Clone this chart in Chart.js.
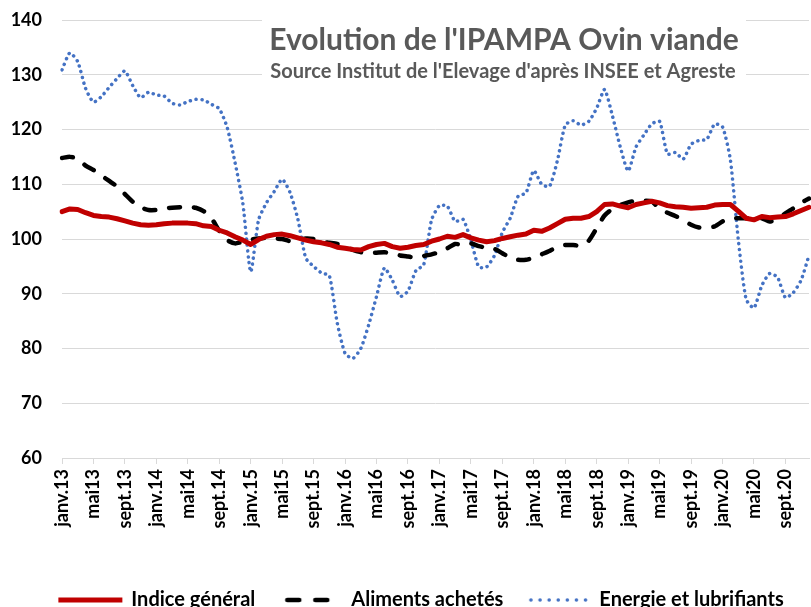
<!DOCTYPE html>
<html lang="fr">
<head>
<meta charset="utf-8">
<title>Evolution de l'IPAMPA Ovin viande</title>
<script src="https://cdn.jsdelivr.net/npm/chart.js@4.4.1/dist/chart.umd.min.js"></script>
<style>
  html, body { margin: 0; padding: 0; background: #fff; overflow: hidden; }
  #wrap { width: 811px; height: 607px; overflow: hidden; }
  canvas { display: block; }
</style>
</head>
<body>
<div id="wrap">
  <canvas id="ipampaChart" width="843" height="607"></canvas>
</div>
<script>
// mois affichés sur l'axe (un libellé tous les 4 mois)
const moisFr = ['janv.', 'févr.', 'mars', 'avr.', 'mai', 'juin', 'juil.', 'août', 'sept.', 'oct.', 'nov.', 'déc.'];
const annees = ['13', '14', '15', '16', '17', '18', '19', '20'];

const titre = "Evolution de l'IPAMPA Ovin viande";
const sousTitre = "Source Institut de l'Elevage d'après INSEE et Agreste";

const yTicks = [60, 70, 80, 90, 100, 110, 120, 130, 140];

// janv.13 -> déc.20
const indiceGeneral = [
  105.0, 105.5, 105.4, 104.8, 104.3, 104.1, 104.0, 103.7, 103.3, 102.9, 102.6, 102.5,
  102.6, 102.8, 102.9, 102.9, 102.9, 102.8, 102.4, 102.3, 101.6, 101.1, 100.4, 99.8,
  99.0, 99.9, 100.5, 100.8, 100.9, 100.6, 100.2, 99.8, 99.5, 99.3, 99.0, 98.5,
  98.3, 98.1, 98.0, 98.6, 99.0, 99.2, 98.6, 98.3, 98.5, 98.8, 99.0, 99.6,
  100.0, 100.5, 100.3, 100.8, 100.2, 99.8, 99.5, 99.7, 100.1, 100.4, 100.7, 100.9,
  101.6, 101.4, 102.0, 102.8, 103.6, 103.8, 103.8, 104.1, 105.0, 106.3, 106.4, 106.0,
  105.7, 106.3, 106.6, 106.9, 106.6, 106.1, 105.9, 105.8, 105.6, 105.7, 105.8, 106.2,
  106.3, 106.3, 105.1, 103.8, 103.5, 104.1, 103.9, 104.0, 104.1, 104.6, 105.2, 105.8
];

const alimentsAchetes = [
  114.8, 115.0, 114.7, 113.4, 112.6, 111.6, 110.6, 109.6, 108.2, 106.8, 105.8, 105.3,
  105.3, 105.6, 105.7, 105.8, 105.9, 105.7, 105.1, 103.8, 101.5, 99.8, 99.2, 99.5,
  99.9, 100.1, 100.2, 100.1, 100.0, 99.6, 99.8, 100.1, 100.0, 99.5, 99.3, 99.1,
  98.7, 98.0, 97.6, 97.4, 97.5, 97.6, 97.3, 97.0, 96.8, 96.6, 96.9, 97.2,
  97.6, 98.3, 99.1, 98.9, 99.2, 98.7, 98.4, 98.2, 97.4, 96.6, 96.2, 96.2,
  96.6, 97.2, 97.8, 98.6, 98.9, 98.9, 98.8, 99.7, 102.0, 104.3, 105.5, 106.2,
  106.7, 107.0, 107.0, 106.9, 105.5, 104.8, 104.2, 103.5, 102.6, 102.1, 102.1, 102.3,
  103.2, 103.8, 103.8, 103.8, 103.7, 103.8, 103.2, 103.6, 104.7, 105.6, 106.6, 107.4
];

const energieLubrifiants = [
  130.9, 134.0, 132.4, 127.5, 125.0, 126.0, 127.7, 129.3, 130.7, 128.0, 125.8, 126.8,
  126.3, 126.1, 124.8, 124.5, 125.1, 125.5, 125.4, 124.6, 123.8, 120.4, 114.0, 106.5,
  94.0, 103.5, 106.6, 108.7, 110.9, 108.5, 103.6, 96.5, 95.0, 93.8, 93.3, 84.7,
  79.1, 78.2, 80.0, 84.3, 89.5, 94.7, 92.5, 89.5, 90.5, 94.2, 95.3, 103.5,
  106.1, 106.0, 103.2, 103.6, 99.8, 94.9, 94.9, 97.0, 101.2, 103.8, 107.8, 108.4,
  112.5, 110.0, 109.6, 114.3, 120.8, 121.6, 120.8, 121.5, 123.9, 127.3, 122.5, 116.8,
  112.4, 116.8, 119.0, 121.0, 121.5, 115.5, 115.8, 114.6, 117.3, 118.0, 118.2, 121.0,
  120.5, 114.5, 100.0, 89.0, 87.4, 91.5, 93.7, 93.0, 89.3, 90.2, 92.5, 97.0
];

const labels = [];
annees.forEach(an => moisFr.forEach(m => labels.push(m + an)));

const policeTexte = 'Lato, "Open Sans", sans-serif';

// petit trait de légende dessiné à part (le style de trait de Chart.js ne suit pas les pointillés)
function echantillon(couleur, epaisseur, tirets, bout, longueur) {
  const c = document.createElement('canvas');
  c.width = longueur + 6;
  c.height = 10;
  const g = c.getContext('2d');
  g.strokeStyle = couleur;
  g.lineWidth = epaisseur;
  g.lineCap = bout;
  g.setLineDash(tirets);
  g.beginPath();
  g.moveTo(3, 5);
  g.lineTo(3 + longueur, 5);
  g.stroke();
  return c;
}

// titre posé dans la zone du graphique, sur un cadre blanc
const titrePlugin = {
  id: 'titreIpampa',
  afterLayout(chart) {
    // la légende d'origine est un peu décalée vers la droite
    chart.legend.left += 17;
    chart.legend.right += 17;
  },
  beforeDatasetsDraw(chart) {
    const ctx = chart.ctx;
    ctx.save();
    ctx.fillStyle = '#ffffff';
    ctx.fillRect(262, 4, 484, 80);
    ctx.fillStyle = '#595959';
    ctx.textAlign = 'center';
    ctx.textBaseline = 'alphabetic';
    ctx.font = 'bold 30px ' + policeTexte;
    ctx.fillText(titre, 504, 50);
    ctx.font = 'bold 20px ' + policeTexte;
    ctx.fillText(sousTitre, 503, 78);
    ctx.restore();
  }
};

const ctx = document.getElementById('ipampaChart');

new Chart(ctx, {
  type: 'line',
  data: {
    labels: labels,
    datasets: [{
      label: 'Indice général',
      data: indiceGeneral,
      borderColor: '#C00000',
      backgroundColor: '#C00000',
      borderWidth: 5,
      pointRadius: 0,
      pointStyle: echantillon('#C00000', 5, [], 'butt', 64),
      tension: 0,
      borderCapStyle: 'round',
      borderJoinStyle: 'round'
    }, {
      label: 'Aliments achetés',
      data: alimentsAchetes,
      borderColor: '#000000',
      backgroundColor: '#000000',
      borderWidth: 4.5,
      borderDash: [11, 14],
      borderCapStyle: 'round',
      pointRadius: 0,
      pointStyle: echantillon('#000000', 4.5, [12, 16], 'round', 46),
      tension: 0.2
    }, {
      label: 'Energie et lubrifiants',
      data: energieLubrifiants,
      borderColor: '#4472C4',
      backgroundColor: '#4472C4',
      borderWidth: 3.5,
      borderDash: [0.1, 5.8],
      borderCapStyle: 'round',
      pointRadius: 0,
      pointStyle: echantillon('#4472C4', 3.5, [0.1, 9], 'round', 55),
      tension: 0.2
    }]
  },
  options: {
    responsive: false,
    animation: false,
    layout: {
      padding: { top: 20, right: 34, bottom: -13, left: 0 }
    },
    plugins: {
      title: { display: false },
      tooltip: { enabled: false },
      legend: {
        position: 'bottom',
        labels: {
          usePointStyle: true,
          pointStyleWidth: 62,
          padding: 24,
          color: '#000000',
          font: { family: policeTexte, size: 20, weight: 'bold' }
        }
      }
    },
    scales: {
      x: {
        grid: {
          drawOnChartArea: false,
          drawTicks: true,
          tickLength: 6,
          color: c => (c.index % 4 === 0 ? '#d9d9d9' : 'rgba(0,0,0,0)')
        },
        border: { display: true, color: '#d9d9d9', width: 1 },
        ticks: {
          autoSkip: false,
          minRotation: 90,
          maxRotation: 90,
          padding: 5,
          color: '#000000',
          font: { family: policeTexte, size: 18, weight: 'bold' },
          callback: function (value, index) {
            return index % 4 === 0 ? this.getLabelForValue(value) : '';
          }
        },
        afterFit: scale => {
          scale.height = 108;
          scale.paddingLeft = 0;
          scale.paddingRight = 0;
        }
      },
      y: {
        min: 60,
        max: 140,
        afterBuildTicks: scale => { scale.ticks = yTicks.map(v => ({ value: v })); },
        grid: { color: '#d9d9d9', lineWidth: 1, drawTicks: false },
        border: { display: false },
        ticks: {
          padding: 20,
          color: '#000000',
          font: { family: policeTexte, size: 18, weight: 'bold' }
        },
        afterFit: scale => {
          scale.width = 62;
          scale.paddingTop = 0;
          scale.paddingBottom = 0;
        }
      }
    }
  },
  plugins: [titrePlugin]
});
</script>
</body>
</html>
